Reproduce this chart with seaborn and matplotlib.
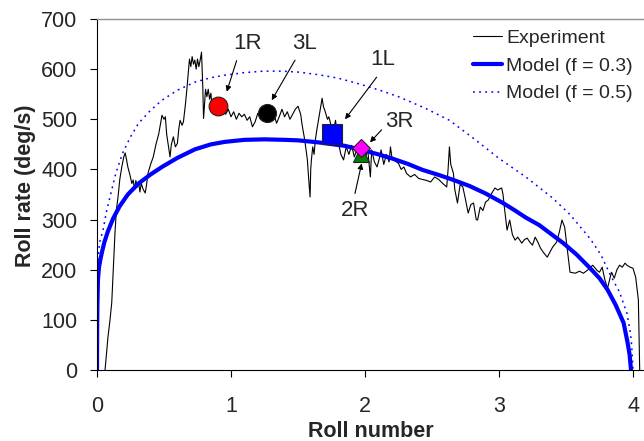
import numpy as np
import pandas as pd
import seaborn as sns
import matplotlib.pyplot as plt
from matplotlib.lines import Line2D

# experiment trace
exp_x = [0.06, 0.082, 0.095, 0.11, 0.12, 0.134, 0.145, 0.157, 0.17, 0.185, 0.2, 0.21, 0.22, 0.23, 0.245,
         0.26, 0.27, 0.28, 0.29, 0.30, 0.31, 0.32, 0.33, 0.345, 0.36, 0.37, 0.38, 0.40, 0.42, 0.44,
         0.46, 0.485, 0.50, 0.51, 0.52, 0.53, 0.545, 0.555, 0.57, 0.585, 0.60, 0.61, 0.62, 0.635, 0.645,
         0.66, 0.67, 0.68, 0.69, 0.70, 0.71, 0.72, 0.73, 0.74, 0.75, 0.76, 0.77, 0.78, 0.79, 0.795,
         0.80, 0.81, 0.82, 0.83, 0.84, 0.85, 0.86, 0.87, 0.88, 0.90, 0.92, 0.94, 0.96, 0.98, 1.00,
         1.02, 1.04, 1.06, 1.08, 1.10, 1.12, 1.14, 1.16, 1.18, 1.20, 1.22, 1.25, 1.28, 1.30, 1.32,
         1.34, 1.36, 1.38, 1.40, 1.42, 1.44, 1.46, 1.48, 1.50, 1.52, 1.53, 1.55, 1.57, 1.58, 1.59,
         1.595, 1.60, 1.61, 1.62, 1.63, 1.64, 1.66, 1.68, 1.69, 1.70, 1.72, 1.73, 1.74, 1.76, 1.78,
         1.80, 1.82, 1.84, 1.86, 1.88, 1.90, 1.92, 1.94, 1.96, 1.98, 2.00, 2.02, 2.04, 2.05, 2.07,
         2.09, 2.11, 2.12, 2.14, 2.16, 2.18, 2.19, 2.20, 2.22, 2.25, 2.27, 2.29, 2.31, 2.34, 2.37,
         2.40, 2.43, 2.46, 2.49, 2.52, 2.55, 2.58, 2.61, 2.62, 2.63, 2.64, 2.66, 2.67, 2.69, 2.71,
         2.73, 2.75, 2.77, 2.79, 2.81, 2.83, 2.84, 2.86, 2.88, 2.90, 2.92, 2.94, 2.97, 2.99, 3.02,
         3.03, 3.04, 3.06, 3.08, 3.10, 3.12, 3.14, 3.17, 3.19, 3.21, 3.23, 3.25, 3.27, 3.29, 3.31,
         3.33, 3.36, 3.38, 3.40, 3.43, 3.45, 3.47, 3.49, 3.51, 3.53, 3.57, 3.60, 3.63, 3.66, 3.70,
         3.73, 3.75, 3.77, 3.79, 3.81, 3.83, 3.84, 3.86, 3.88, 3.90, 3.92, 3.94, 3.96, 3.98, 4.00,
         4.02, 4.04, 4.05]
exp_y = [0, 66, 95, 134, 190, 273, 320, 345, 380, 405, 425, 433, 420, 405, 390,
         372, 379, 360, 378, 365, 375, 355, 372, 360, 353, 370, 392, 410, 425, 450,
         470, 508, 500, 505, 470, 452, 425, 450, 465, 445, 452, 480, 498, 488, 495,
         530, 558, 590, 620, 605, 625, 610, 618, 600, 620, 605, 618, 634, 560, 502,
         520, 560, 545, 560, 540, 552, 520, 535, 510, 525, 515, 530, 510, 520, 505,
         515, 500, 512, 505, 510, 498, 505, 485, 495, 512, 500, 515, 505, 495, 510,
         492, 505, 520, 505, 515, 500, 510, 520, 526, 510, 490, 459, 419, 380, 345,
         400, 419, 445, 430, 460, 478, 510, 542, 525, 518, 500, 505, 495, 470, 498,
         455, 430, 419, 445, 430, 448, 425, 440, 430, 445, 420, 440, 385, 439, 415,
         405, 425, 439, 410, 430, 415, 445, 425, 418, 412, 400, 405, 392, 385, 390,
         382, 380, 378, 375, 385, 380, 372, 365, 400, 445, 410, 392, 360, 333, 370,
         365, 340, 313, 330, 333, 300, 299, 325, 318, 335, 339, 350, 363, 359, 363,
         350, 325, 279, 299, 270, 259, 265, 253, 260, 263, 255, 249, 265, 255, 243,
         235, 225, 235, 245, 255, 275, 299, 285, 240, 195, 193, 197, 193, 199, 209,
         199, 195, 205, 180, 163, 185, 195, 183, 200, 209, 205, 213, 208, 205, 203,
         185, 140, 0]

# model curves
m3_x = [0, 0.001, 0.003, 0.007, 0.015, 0.025, 0.037, 0.055, 0.082, 0.12, 0.17, 0.23, 0.31, 0.4,
        0.485, 0.6, 0.73, 0.85, 0.955, 1.1, 1.25, 1.4, 1.5, 1.65, 1.85, 1.96, 2.1, 2.2, 2.32,
        2.43, 2.55, 2.66, 2.78, 2.9, 3.03, 3.12, 3.2, 3.3, 3.4, 3.48, 3.58, 3.68, 3.75, 3.81,
        3.87, 3.93, 3.96, 3.975, 3.985]
m3_y = [0, 80, 130, 180, 205, 220, 235, 255, 277, 302, 327, 350, 372, 390,
        405, 423, 440, 450, 455, 459, 460, 459, 458, 454, 447, 440, 430, 422, 411,
        399, 389, 379, 367, 352, 333, 318, 304, 289, 269, 253, 230, 203, 183, 160,
        130, 94, 54, 30, 0]
m5_x = [0, 0.002, 0.008, 0.02, 0.045, 0.07, 0.097, 0.14, 0.19, 0.25, 0.31, 0.4, 0.485, 0.6,
        0.73, 0.85, 0.955, 1.1, 1.24, 1.38, 1.51, 1.65, 1.8, 1.95, 2.11, 2.26, 2.45, 2.63,
        2.8, 3.0, 3.2, 3.4, 3.53, 3.68, 3.76, 3.83, 3.9, 3.955, 3.98, 3.99, 4.0]
m5_y = [0, 130, 225, 255, 279, 315, 345, 392, 432, 465, 492, 518, 538, 558,
        574, 583, 588, 593, 596, 596, 594, 589, 582, 571, 558, 544, 522, 498,
        464, 422, 385, 343, 310, 262, 230, 190, 155, 113, 75, 50, 0]

# roll markers
roll_names = ['1R', '3L', '1L', '2R', '3R']
roll_x = [0.90, 1.27, 1.75, 1.97, 1.97]
roll_y = [526, 512, 470, 430, 442]

sns.set_style('ticks')
plt.rcParams['font.family'] = ['Liberation Sans', 'DejaVu Sans']

fig = plt.figure(figsize=(6.44, 4.41), dpi=100)
ax = fig.add_axes([97/644, 71/441, 547/644, 351/441])

exp = pd.DataFrame({'x': exp_x, 'y': exp_y})
sns.lineplot(data=exp, x='x', y='y', ax=ax, color='black', lw=0.8, sort=False, estimator=None)
sns.lineplot(x=m5_x, y=m5_y, ax=ax, color='blue', lw=1.1, ls=(0, (1.2, 2.8)), sort=False, estimator=None)
sns.lineplot(x=m3_x, y=m3_y, ax=ax, color='blue', lw=3, sort=False, estimator=None)

styles = {'1R': ('o', 'red', 13.5), '3L': ('o', 'black', 13),
          '1L': ('s', 'blue', 14), '2R': ('^', 'green', 12), '3R': ('D', 'magenta', 9.5)}
for name, xx, yy in zip(roll_names, roll_x, roll_y):
    m, c, s = styles[name]
    ax.plot(xx, yy, marker=m, color=c, ms=s, mec='#222222', mew=0.8, zorder=5)

# labels with arrows
labels = {'1R': ((1.12, 651), (1.042, 617), (0.968, 555)),
          '3L': ((1.55, 651), (1.478, 618), (1.304, 538)),
          '1L': ((2.13, 620), (2.087, 584), (1.851, 500)),
          '3R': ((2.26, 496), (2.124, 479), (2.037, 454)),
          '2R': ((1.93, 319), (1.925, 352), (1.975, 412))}
for name, (tp, tail, head) in labels.items():
    ax.text(tp[0], tp[1], name, fontsize=16, ha='center', va='center')
    ax.annotate('', xy=head, xytext=tail,
                arrowprops=dict(arrowstyle='-|>', color='black', lw=0.8, mutation_scale=8,
                                shrinkA=0, shrinkB=0))

ax.set_xlim(0, 547/134)
ax.set_ylim(0, 700)
ax.set_xticks([0, 1, 2, 3, 4])
ax.set_yticks(range(0, 701, 100))
ax.tick_params(axis='both', direction='out', length=5, width=0.8, labelsize=15.5, color='black')
ax.tick_params(axis='x', pad=14)
ax.tick_params(axis='y', pad=9)
for s in ['left', 'bottom']:
    ax.spines[s].set_color('black')
    ax.spines[s].set_linewidth(0.8)
ax.spines['top'].set_color('#909090')
ax.spines['top'].set_linewidth(1)
ax.spines['right'].set_visible(False)

ax.set_xlabel('Roll number', fontsize=15.5, fontweight='bold')
ax.set_ylabel('Roll rate (deg/s)', fontsize=15.5, fontweight='bold')
ax.xaxis.set_label_coords(0.5, -0.145)
ax.yaxis.set_label_coords(-0.112, 0.524)

handles = [Line2D([], [], color='black', lw=0.8),
           Line2D([], [], color='blue', lw=3),
           Line2D([], [], color='blue', lw=1.1, ls=(0, (1.2, 2.8)))]
ax.legend(handles, ['Experiment', 'Model (f = 0.3)', 'Model (f = 0.5)'],
          loc='upper left', bbox_to_anchor=(473/644, 1 - 29/441), bbox_transform=fig.transFigure,
          frameon=False, fontsize=14, borderpad=0, borderaxespad=0, handlelength=1.5,
          handletextpad=0.2, labelspacing=0.53)

fig.savefig('out.png', dpi=100)
